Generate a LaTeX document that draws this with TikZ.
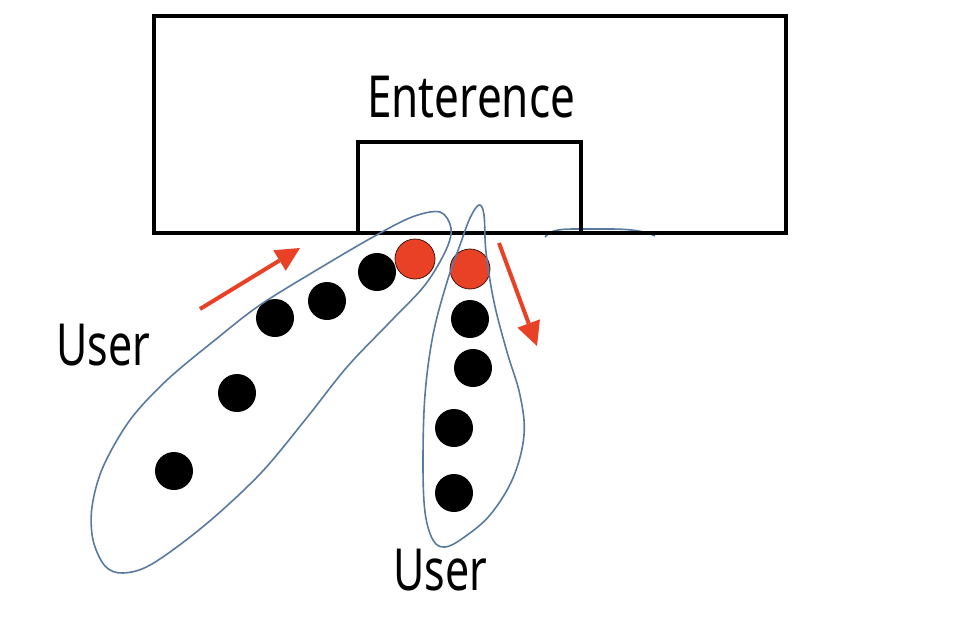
\documentclass[tikz,border=0pt]{standalone}
\usepackage{fontspec}
\setmainfont{Noto Sans}
\usepackage{xcolor}
\usepackage{tikz}
\usetikzlibrary{positioning}
\usetikzlibrary{arrows.meta}
\definecolor{dotred}{RGB}{233,65,38}
\definecolor{loopblue}{RGB}{88,122,160}
\tikzset{main node/.style={circle,fill=black,draw=none,minimum size=38pt,inner sep=0pt},
head node/.style={circle,fill=dotred,draw=black!70!dotred,line width=0.8pt,minimum size=40pt,inner sep=0pt},
text node/.style={inner sep=0pt,anchor=base west,font=\fontsize{58}{60}\selectfont},
loop line/.style={draw=loopblue,line width=1.6pt},
move arrow/.style={color=dotred,line width=4pt,-{Triangle[length=24pt,width=24pt,line width=0pt]}},}

\begin{document}
\begin{tikzpicture}[x=1pt,y=-1pt]
	\useasboundingbox (0,0) rectangle (956,622);

	% stray mark under the floor line
	\draw[loop line] (545,237) .. controls (550,231) and (556,229) .. (575,229)
	  -- (610,229) .. controls (630,229) and (645,231) .. (655,236);

	% building and door
	\draw[line width=3.2pt] (154,16) rectangle (786,233);
	\draw[line width=3.2pt] (358,233) -- (358,142) -- (581,142) -- (581,233);
	\node[text node] (t) at (367,117) {\scalebox{0.76}[1]{Enterence}};

	% first user
	\node[main node] (a1) at (174,471) {};
	\node[main node] (a2) at (237,393) {};
	\node[main node] (a3) at (275,318) {};
	\node[main node] (a4) at (327,301) {};
	\node[main node] (a5) at (377,272) {};
	\node[head node] (a6) at (415,259) {};

	% second user
	\node[head node] (b1) at (470,269) {};
	\node[main node] (b2) at (470,319) {};
	\node[main node] (b3) at (473,368) {};
	\node[main node] (b4) at (454,428) {};
	\node[main node] (b5) at (454,493) {};

	\node[text node] (u1) at (56,365) {\scalebox{0.74}[1]{User}};
	\node[text node] (u2) at (393,590) {\scalebox{0.74}[1]{User}};

	% groups
	\draw[loop line] plot[smooth cycle,tension=0.55] coordinates {
	  (440,212) (451,228) (446,250) (425,285) (390,322) (347,367) (305,420)
	  (260,474) (205,525) (152,564) (123,573) (105,566) (93,540) (92,507)
	  (103,467) (130,420) (167,380) (215,340) (260,305) (320,268) (373,237)
	  (412,217)};
	\draw[loop line] plot[smooth cycle,tension=0.6] coordinates {
	  (479,205) (470,218) (460,245) (447,282) (433,335) (425,395) (423,462)
	  (425,512) (433,540) (445,547) (463,538) (490,515) (513,478) (524,435)
	  (520,395) (507,352) (494,302) (486,252) (484,215)};

	% walking directions
	\coordinate (c1) at (200,309);
	\coordinate (c2) at (300,248);
	\coordinate (c3) at (499,243);
	\coordinate (c4) at (537,346);
	\draw[move arrow] (c1) -- (c2);
	\draw[move arrow] (c3) -- (c4);

\end{tikzpicture}
\end{document}
